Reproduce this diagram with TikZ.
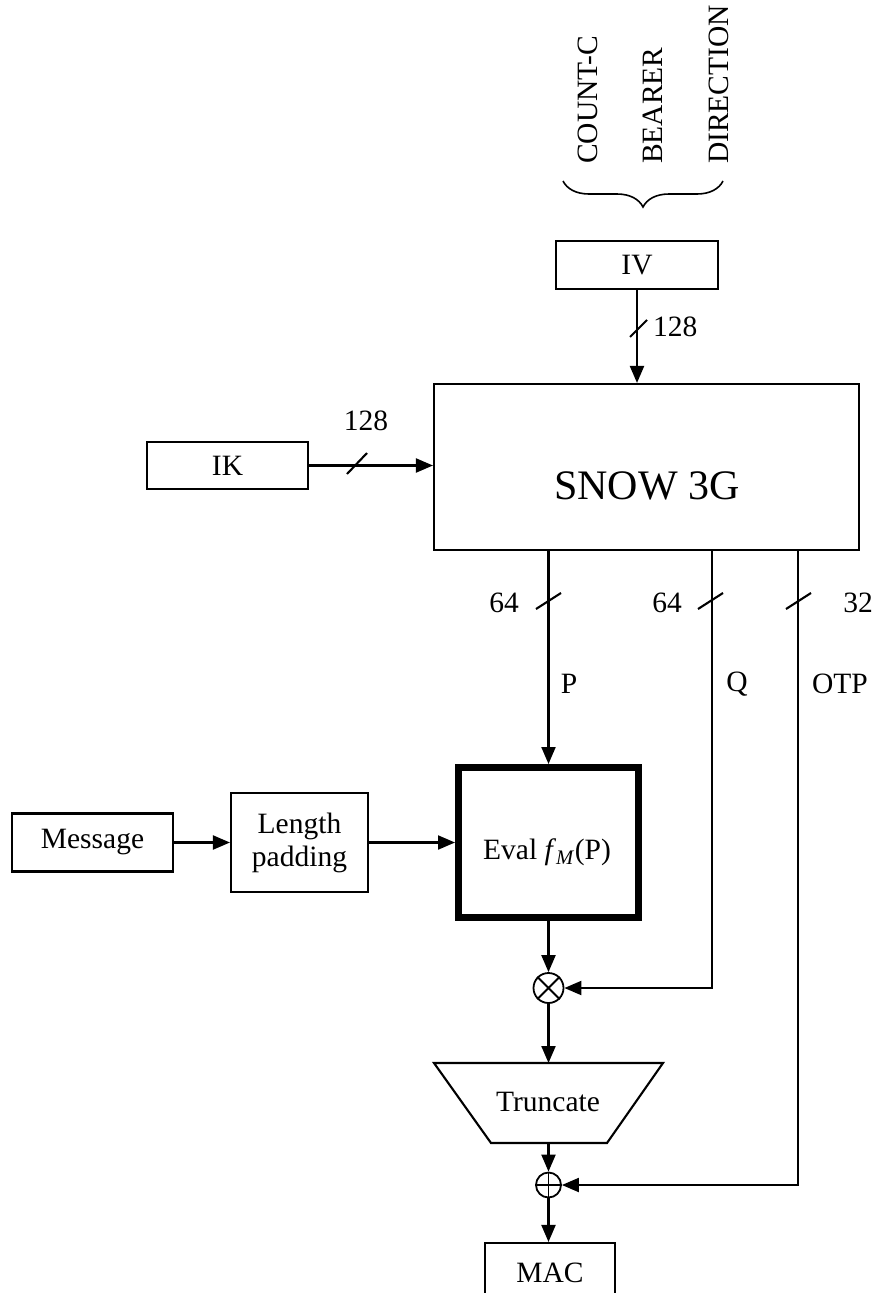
\documentclass[tikz,border=0pt]{standalone}
\usepackage{fontspec}
\setmainfont{Liberation Serif}
\usetikzlibrary{arrows.meta,decorations.pathreplacing}
\newcommand\myfs{\fontsize{29.5}{33}\selectfont}
\newcommand\bigfs{\fontsize{42}{46}\selectfont}
\begin{document}
\begin{tikzpicture}[x=1pt,y=1pt,line width=2.1pt,
  every node/.style={font=\myfs, inner sep=0pt},
  box/.style={draw, rectangle, line width=2.1pt},
  arr/.style={-{Triangle[length=17pt,width=14pt]}},
  slash/.style={line width=2.1pt},
  vlabel/.style={rotate=90, anchor=base west},
  op/.style={draw, circle, minimum size=#1, line width=1.8pt}]
\useasboundingbox (0,0) rectangle (876,-1293);
\clip (0,0) rectangle (876,-1293);

% top vertical labels and brace
\node[vlabel] (cnt) at (597,-165) {COUNT-C};
\node[vlabel] (bea) at (662,-165) {BEARER};
\node[vlabel] (dir) at (728,-165) {DIRECTION};
\draw[line width=1.6pt, decorate, decoration={brace, mirror, amplitude=26pt}] (563,-181) -- (723,-181);

% boxes
\node[box, minimum width=162, minimum height=48] (iv) at (637,-265) {IV};
\node[box, minimum width=425, minimum height=166] (snow) at (646.5,-467) {};
\node[font=\bigfs] (snowtxt) at (647,-486) {SNOW 3G};
\node[box, minimum width=161, minimum height=47] (ik) at (227.5,-465.5) {IK};
\node[box, minimum width=161, minimum height=58] (msg) at (92.5,-842.5) {Message};
\node[box, minimum width=137, minimum height=99, align=center] (lp) at (299.5,-842.5) {Length\\padding};
\node[draw, rectangle, line width=7pt, minimum width=180, minimum height=150] (eval) at (548.5,-842.5) {};
\node (evaltxt) at (547,-852) {Eval \textit{f}\textsubscript{\textit{M}}(P)};
\node[op=30] (otimes) at (548.5,-988) {};
\draw[line width=1.8pt] (otimes.north west) -- (otimes.south east) (otimes.north east) -- (otimes.south west);
\coordinate (trtop) at (548.5,-1063);
\coordinate (trbot) at (548.5,-1143);
\draw (434,-1063) -- (663,-1063) -- (607,-1143) -- (491,-1143) -- cycle;
\node (trunc) at (548,-1102) {Truncate};
\node[op=25] (oplus) at (548.5,-1185) {};
\draw[line width=1.8pt] (oplus.north) -- (oplus.south) (oplus.west) -- (oplus.east);
\node[box, minimum width=130, minimum height=60] (mac) at (550,-1273) {MAC};

% connectors
\draw[arr] (iv.south) -- (iv.south |- snow.north);
\draw[slash] (630,-337) -- (647,-320);
\node[anchor=west] (l128a) at (652,-327) {128};

\draw[arr] (ik.east) -- (snow.west |- ik.east);
\draw[slash] (347,-474) -- (367,-453);
\node (l128b) at (366,-421) {128};

\draw[arr] (eval.north |- snow.south) -- (eval.north);
\draw[arr] ([xshift=65.5pt]snow.south) |- (otimes.east);
\draw[arr] ([xshift=151.5pt]snow.south) |- (oplus.east);
\draw[slash] (536,-609) -- (561,-593);
\draw[slash] (698,-609) -- (723,-593);
\draw[slash] (786,-609) -- (811,-593);
\node (l64a) at (504,-603) {64};
\node (l64b) at (667,-603) {64};
\node (l32) at (858,-603) {32};
\node (lP) at (569,-684) {P};
\node (lQ) at (737,-684) {Q};
\node (lOTP) at (840,-684) {OTP};

\draw[arr] (msg.east) -- (lp.west);
\draw[arr] (lp.east) -- (eval.west);
\draw[arr] (eval.south) -- (otimes.north);
\draw[arr] (otimes.south) -- (trtop);
\draw[arr] (trbot) -- (oplus.north);
\draw[arr] (oplus.south) -- (oplus.south |- mac.north);
\end{tikzpicture}
\end{document}
